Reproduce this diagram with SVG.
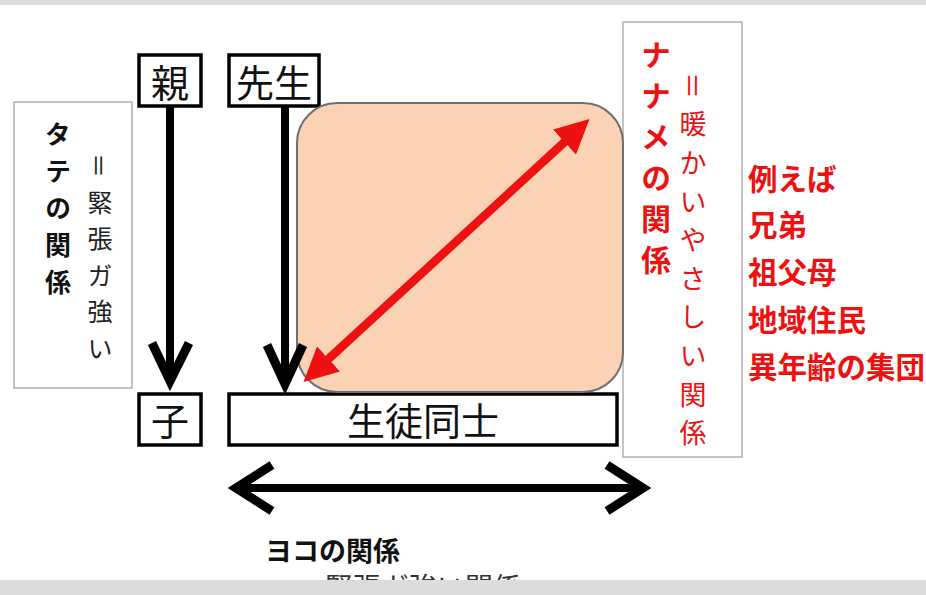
<svg xmlns="http://www.w3.org/2000/svg" width="926" height="595" viewBox="0 0 926 595">
<style>
  .jp { font-family: "Noto Sans CJK JP", "Noto Sans", sans-serif; }
  .box { fill: #ffffff; stroke: #000000; stroke-width: 3.5; }
  .frame { fill: #ffffff; stroke: #b0b0b0; stroke-width: 1.5; }
  .lbl { font-size: 38px; fill: #111111; text-anchor: middle; }
  .vert { writing-mode: vertical-rl; }
  .arrowBlack { fill: none; stroke: #000000; stroke-width: 9; stroke-linejoin: miter; stroke-linecap: butt; }
  .redTxt { fill: #ee1111; }
</style>
<defs>
  <marker id="redHead" viewBox="0 0 10 10" refX="7" refY="5" markerWidth="4" markerHeight="4" orient="auto-start-reverse" markerUnits="strokeWidth">
    <path d="M0,0 L10,5 L0,10 Z" fill="#ee1111"/>
  </marker>
</defs>
<rect width="926" height="595" fill="#ffffff"/>
<rect x="0" y="0" width="926" height="5" fill="#dcdcdc"/>

<g id="tate-frame">
  <rect class="frame" x="14" y="102" width="118" height="286"/>
  <text class="jp vert" x="58" y="121" font-size="26" font-weight="bold" fill="#111" letter-spacing="11">タテの関係</text>
  <text class="jp vert" x="100" y="153" font-size="25" fill="#222" letter-spacing="11.5">＝緊張ガ強い</text>
</g>

<g id="naname-frame">
  <rect class="frame" x="623" y="22" width="119" height="435"/>
  <text class="jp vert redTxt" x="656" y="40" font-size="30" font-weight="bold" letter-spacing="11">ナナメの関係</text>
  <text class="jp vert redTxt" x="693" y="72" font-size="27" letter-spacing="11.6">＝暖かいやさしい関係</text>
</g>

<g id="oya">
  <rect class="box" x="139" y="55" width="62" height="51"/>
  <text class="jp lbl" x="170" y="97">親</text>
</g>
<g id="sensei">
  <rect class="box" x="229" y="55" width="90" height="51"/>
  <text class="jp lbl" x="274" y="97">先生</text>
</g>
<g id="ko">
  <rect class="box" x="139" y="394" width="62" height="51"/>
  <text class="jp lbl" x="170" y="435">子</text>
</g>
<g id="seito">
  <rect class="box" x="229" y="394" width="388" height="51"/>
  <text class="jp lbl" x="423" y="435">生徒同士</text>
</g>

<g id="naname-area">
  <rect x="297" y="103" width="326" height="289" rx="40" ry="40" fill="#fbd3b4" stroke="#6e6e6e" stroke-width="2"/>
</g>

<g id="examples">
  <text class="jp redTxt" x="748" y="190" font-size="29.5" font-weight="bold">例えば</text>
  <text class="jp redTxt" x="748" y="236" font-size="29.5" font-weight="bold">兄弟</text>
  <text class="jp redTxt" x="748" y="283" font-size="29.5" font-weight="bold">祖父母</text>
  <text class="jp redTxt" x="748" y="331" font-size="29.5" font-weight="bold">地域住民</text>
  <text class="jp redTxt" x="748" y="378" font-size="29.5" font-weight="bold">異年齢の集団</text>
</g>

<g id="yoko-label">
  <text class="jp" x="265" y="561" font-size="27" font-weight="bold" fill="#111">ヨコの関係</text>
  <text class="jp" x="297" y="598" font-size="28" fill="#333">＝緊張ガ強い関係</text>
</g>

<g id="connectors">
  <line x1="170" y1="106" x2="170" y2="380" stroke="#000" stroke-width="8"/>
  <polyline class="arrowBlack" points="152,343 170,381 189,343"/>
  <line x1="285" y1="106" x2="285" y2="383" stroke="#000" stroke-width="8"/>
  <polyline class="arrowBlack" points="267,345 285,384 303,345"/>
  <line x1="236" y1="488" x2="643" y2="488" stroke="#000" stroke-width="8"/>
  <polyline class="arrowBlack" points="272,465 236,488 272,511"/>
  <polyline class="arrowBlack" points="607,465 643,488 607,511"/>
  <line x1="311" y1="375" x2="582" y2="126" stroke="#ee1111" stroke-width="8.5" marker-start="url(#redHead)" marker-end="url(#redHead)"/>
</g>
<rect x="0" y="580" width="926" height="15" fill="#dcdcdc"/>
</svg>
